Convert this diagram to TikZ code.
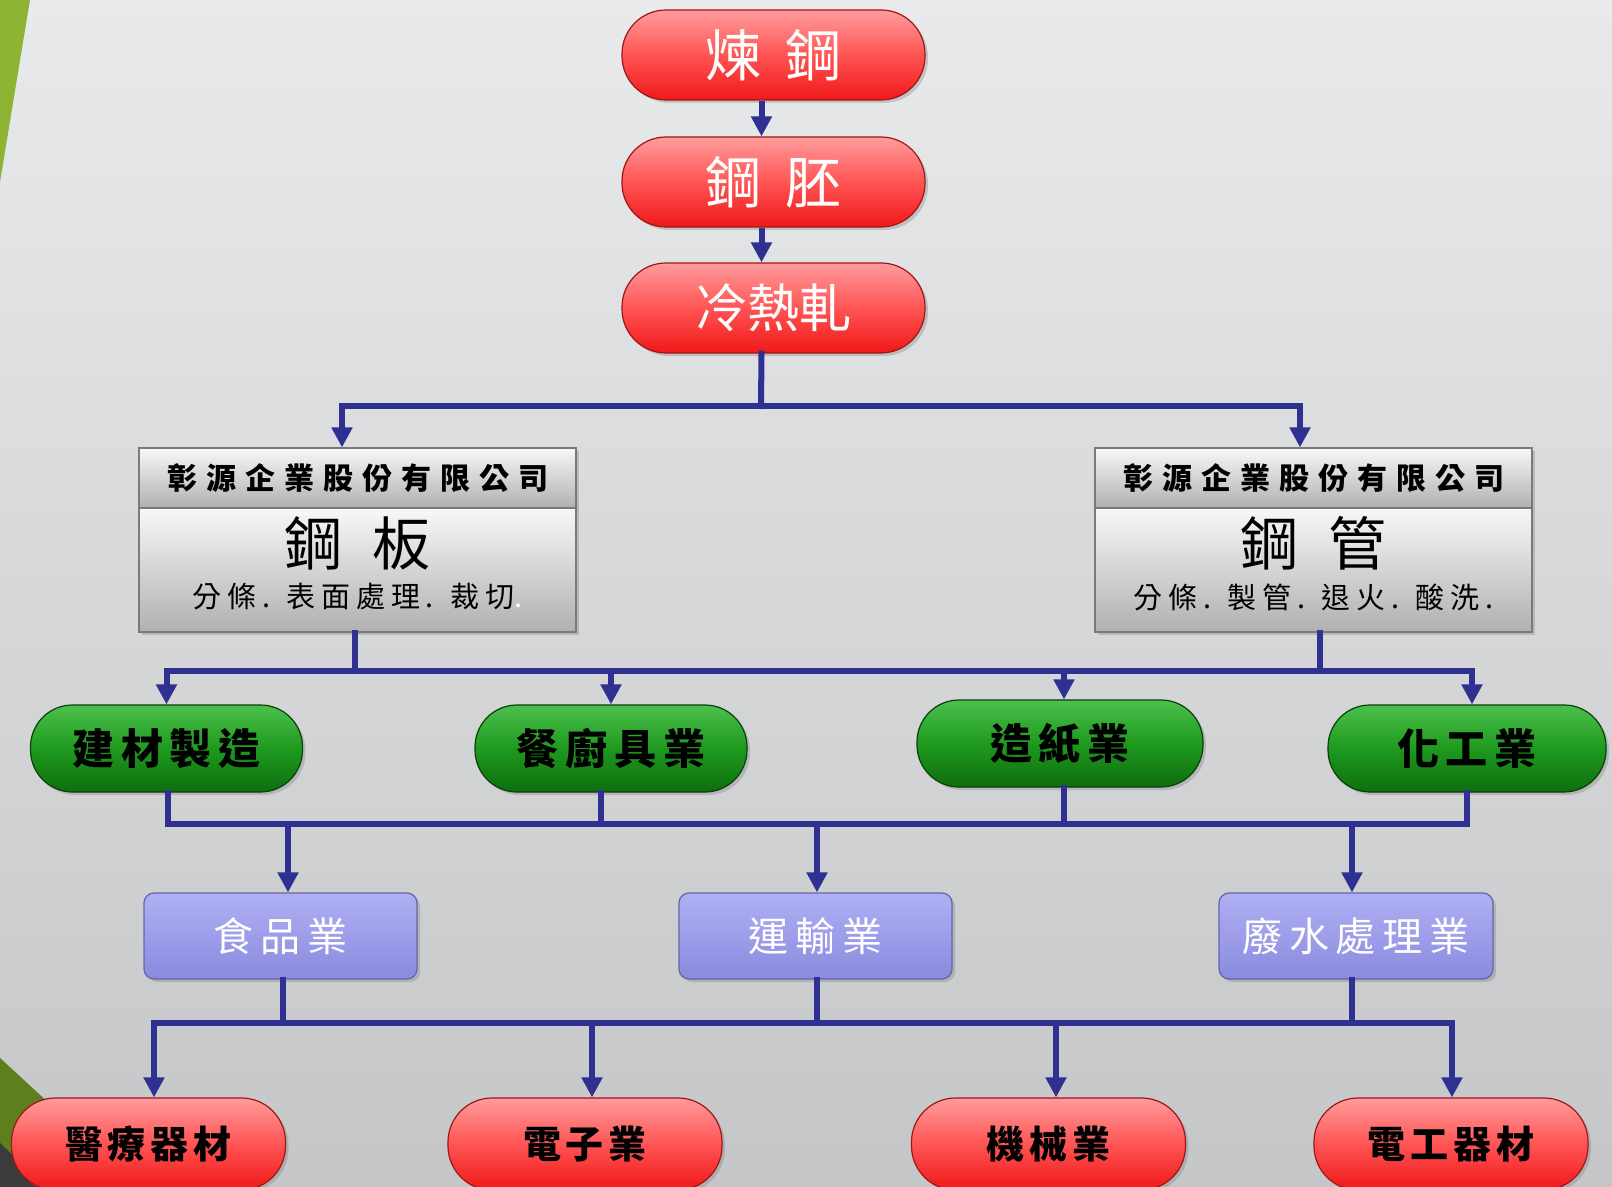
\documentclass[tikz,border=0pt]{standalone}
\usepackage{fontspec}
\newfontfamily\cjk{Noto Sans CJK TC}
\usetikzlibrary{arrows.meta,shadows,calc}
\definecolor{bgtop}{HTML}{E9EAEB}
\definecolor{bgbot}{HTML}{C4C6C7}
\definecolor{linec}{HTML}{2E3192}
\definecolor{redT}{HTML}{FF9C9C}
\definecolor{redM}{HTML}{FF5454}
\definecolor{redB}{HTML}{F01818}
\definecolor{redD}{HTML}{A01515}
\definecolor{grnT}{HTML}{4CC04C}
\definecolor{grnM}{HTML}{1E9A1E}
\definecolor{grnB}{HTML}{0E6E0E}
\definecolor{grnD}{HTML}{0A3F0A}
\definecolor{purT}{HTML}{B0B0F4}
\definecolor{purB}{HTML}{8A8ADF}
\definecolor{purD}{HTML}{6565A8}
\definecolor{gryT}{HTML}{F8F8F8}
\definecolor{gryB}{HTML}{B0B0B0}
\definecolor{gryD}{HTML}{7A7A7A}
\definecolor{leafg}{HTML}{8DB533}
\definecolor{oliveg}{HTML}{5F7F1E}
\definecolor{darkc}{HTML}{3A3B3C}
\tikzset{
  shad/.style={drop shadow={opacity=0.35,shadow xshift=1.5pt,shadow yshift=-1.5pt}},
  pillred/.style={shad,draw=redD,line width=0.6pt,rounded corners=22pt,top color=redT,bottom color=redB,middle color=redM,
     minimum width=151.5pt,minimum height=45pt,inner sep=0pt},
  topred/.style={pillred,text=white,font=\cjk\fontsize{28}{28}\selectfont},
  botred/.style={pillred,minimum width=137pt,minimum height=46pt,text=black,
     font=\cjk\bfseries\fontsize{19}{19}\selectfont\addfontfeature{LetterSpace=13}},
  pillgrn/.style={shad,draw=grnD,line width=0.6pt,rounded corners=21pt,top color=grnT,bottom color=grnB,middle color=grnM,
     minimum width=136pt,minimum height=43.5pt,inner sep=0pt,text=black,
     font=\cjk\bfseries\fontsize{21}{21}\selectfont\addfontfeature{LetterSpace=16}},
  purbox/.style={shad,draw=purD,line width=0.6pt,rounded corners=5pt,top color=purT,bottom color=purB,
     minimum width=136.5pt,minimum height=43pt,inner sep=0pt,text=white,
     font=\cjk\fontsize{20}{20}\selectfont\addfontfeature{LetterSpace=17}},
  grybox/.style={shad,draw=gryD,line width=0.6pt,top color=gryT,bottom color=gryB,
     minimum width=218.5pt,inner sep=0pt},
  comp/.style={grybox,minimum height=30pt,text=black,font=\cjk\bfseries\fontsize{15}{15}\selectfont\addfontfeature{LetterSpace=30}},
  bigt/.style={inner sep=0pt,text=black,font=\cjk\fontsize{29}{29}\selectfont},
  subt/.style={inner sep=0pt,text=black,font=\cjk\fontsize{14.5}{14.5}\selectfont\addfontfeature{LetterSpace=20}},
  ln/.style={draw=linec,line width=3pt,line cap=rect},
  arr/.style={draw=linec,line width=3pt,-{Triangle[width=10pt,length=10pt]}}
}
\begin{document}
\begin{tikzpicture}[x=0.5pt,y=-0.5pt]
\useasboundingbox (0,0) rectangle (1612,1187);
\clip (0,0) rectangle (1612,1187);
\shade[top color=bgtop,bottom color=bgbot] (0,0) rectangle (1612,1187);
\fill[leafg] (0,0) -- (30,0) -- (0,182) -- cycle;
\fill[oliveg] (0,1058) -- (140,1187) -- (0,1187) -- cycle;
\fill[darkc] (0,1143) -- (46,1187) -- (0,1187) -- cycle;

% top chain
\node[topred] (r1) at (773.5,55) {煉\hspace{12pt}鋼};
\node[topred] (r2) at (773.5,182) {鋼\hspace{12pt}胚};
\node[topred,font=\cjk\fontsize{26}{26}\selectfont] (r3) at (773.5,308) {冷熱軋};
\draw[arr] ([xshift=-6pt]r1.south) -- ([xshift=-6pt]r2.north);
\draw[arr] ([xshift=-6pt]r2.south) -- ([xshift=-6pt]r3.north);

% gray boxes
\node[comp] (gl1) at (357.5,478) {彰源企業股份有限公司};
\node[grybox,minimum height=62pt] (gl2) at (357.5,570) {};
\node[bigt] (gl2a) at (357.5,543) {鋼\hspace{15pt}板};
\node[subt] (gl2b) at (357.5,597) {分條. 表面處理. 裁切{\color{white}.}};
\node[comp] (gr1) at (1313.5,478) {彰源企業股份有限公司};
\node[grybox,minimum height=62pt] (gr2) at (1313.5,570) {};
\node[bigt] (gr2a) at (1313.5,543) {鋼\hspace{15pt}管};
\node[subt] (gr2b) at (1313.5,597) {分條. 製管. 退火. 酸洗.};

\coordinate (h1) at (761,406);
\draw[ln] ([xshift=-6pt]r3.south) -- (h1);
\draw[arr] (h1) -| ([xshift=-7.75pt]gl1.north);
\draw[arr] (h1) -| ([xshift=-6.75pt]gr1.north);

% green row
\node[pillgrn] (g1) at (166.5,748.5) {建材製造};
\node[pillgrn] (g2) at (611,748.5) {餐廚具業};
\node[pillgrn,minimum width=143pt] (g3) at (1060,743.5) {造紙業};
\node[pillgrn,minimum width=139pt] (g4) at (1467,748.5) {化工業};

\coordinate (h2) at (0,671);
\draw[ln] ([xshift=-1.25pt]gl2.south) -- ([xshift=-1.25pt]gl2.south |- h2);
\draw[ln] ([xshift=3.25pt]gr2.south) -- ([xshift=3.25pt]gr2.south |- h2);
\draw[ln] (g1.north |- h2) -- ([xshift=2.5pt]g4.north |- h2);
\draw[arr] (g1.north |- h2) -- (g1.north);
\draw[arr] (g2.north |- h2) -- (g2.north);
\draw[arr] ([xshift=2pt]g3.north |- h2) -- ([xshift=2pt]g3.north);
\draw[arr] ([xshift=2.5pt]g4.north |- h2) -- ([xshift=2.5pt]g4.north);

% purple row
\node[purbox] (p1) at (280.5,936) {食品業};
\node[purbox] (p2) at (815.5,936) {運輸業};
\node[purbox,minimum width=137pt] (p3) at (1356,936) {廢水處理業};

\coordinate (h3) at (0,824);
\draw[ln] ([xshift=0.75pt]g1.south) -- ([xshift=0.75pt]g1.south |- h3);
\draw[ln] ([xshift=-5pt]g2.south) -- ([xshift=-5pt]g2.south |- h3);
\draw[ln] ([xshift=2pt]g3.south) -- ([xshift=2pt]g3.south |- h3);
\draw[ln] (g4.south) -- (g4.south |- h3);
\draw[ln] ([xshift=0.75pt]g1.south |- h3) -- (g4.south |- h3);
\draw[arr] ([xshift=3.75pt]p1.north |- h3) -- ([xshift=3.75pt]p1.north);
\draw[arr] ([xshift=0.75pt]p2.north |- h3) -- ([xshift=0.75pt]p2.north);
\draw[arr] ([xshift=-2pt]p3.north |- h3) -- ([xshift=-2pt]p3.north);

% bottom row
\node[botred] (b1) at (148.5,1144) {醫療器材};
\node[botred] (b2) at (585,1144) {電子業};
\node[botred] (b3) at (1048.5,1144) {機械業};
\node[botred] (b4) at (1451,1144) {電工器材};

\coordinate (h4) at (0,1023);
\draw[ln] ([xshift=1.25pt]p1.south) -- ([xshift=1.25pt]p1.south |- h4);
\draw[ln] ([xshift=0.75pt]p2.south) -- ([xshift=0.75pt]p2.south |- h4);
\draw[ln] ([xshift=-2pt]p3.south) -- ([xshift=-2pt]p3.south |- h4);
\draw[ln] ([xshift=2.75pt]b1.north |- h4) -- ([xshift=0.5pt]b4.north |- h4);
\draw[arr] ([xshift=2.75pt]b1.north |- h4) -- ([xshift=2.75pt]b1.north);
\draw[arr] ([xshift=3.5pt]b2.north |- h4) -- ([xshift=3.5pt]b2.north);
\draw[arr] ([xshift=3.75pt]b3.north |- h4) -- ([xshift=3.75pt]b3.north);
\draw[arr] ([xshift=0.5pt]b4.north |- h4) -- ([xshift=0.5pt]b4.north);
\end{tikzpicture}
\end{document}
